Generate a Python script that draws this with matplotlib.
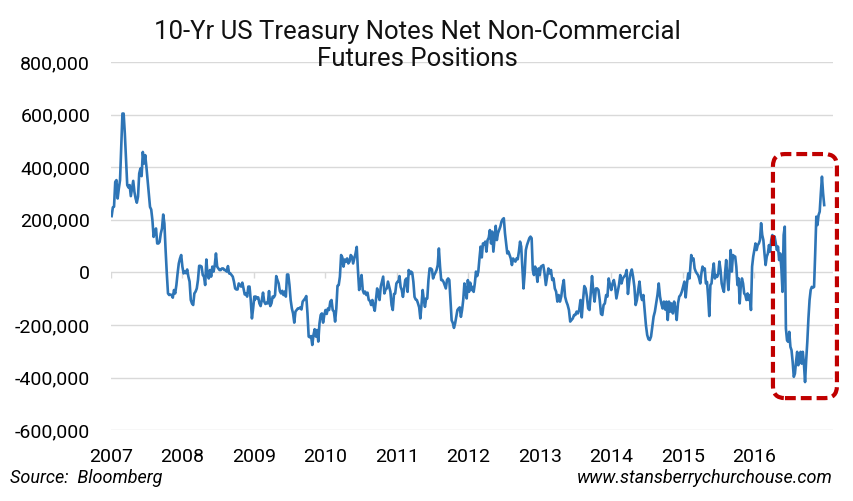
import numpy as np
import matplotlib
matplotlib.use("Agg")
import matplotlib.pyplot as plt
from matplotlib.patches import FancyBboxPatch
from matplotlib.transforms import IdentityTransform

# ---- data (thousands of contracts) ----
seg_a_span = (2007.009, 2009.005)
seg_a = [214, 247, 250, 344, 351, 281, 319, 351, 477, 604, 604, 528, 427, 332, 323, 332, 290, 319, 348, 306,
         281, 265, 288, 376, 395, 366, 458, 414, 446, 401, 351, 300, 249, 239, 199, 135, 154, 167, 110, 110,
         116, 148, 167, 220, 186, 85, -4, -80, -86, -84, -86, -96, -67, -80, -48, -4, 34, 53, 66, 22,
         -4, 3, -3, 11, -16, -35, -105, -118, -124, -80, -73, -61, -29, 25, 25, 22, -10, -16, -48, 49,
         -10, -23, 9, -16, 22, 3, 28, 72, 22, 15, 9, 9, 15, 15, 9, 9, 3, 24, -4, -4,
         -10, -16, -35, -61, -65, -65, -42, -48, -54, -39, -61, -84, -80, -92, -54, -54, -105, -175, -137, -92]

seg_b_span = (2009.009, 2011.009)
seg_b = [-105, -92, -99, -95, -118, -128, -105, -77, -111, -120, -115, -118, -71, -128, -118, -92, -95, -86, -14, -29,
         -42, -71, -80, -70, -86, -73, -92, -8, -8, -48, -105, -137, -156, -191, -149, -143, -137, -137, -133, -141,
         -111, -105, -99, -90, -156, -244, -247, -242, -276, -238, -216, -244, -219, -263, -194, -162, -156, -191, -162, -143,
         -158, -137, -143, -111, -105, -143, -149, -187, -137, -51, -48, -16, 66, 57, 22, 49, 41, 53, 34, 41,
         66, 60, 34, 53, 72, 97, 9, -67, -42, -10, -67, -80, -73, -86, -77, -105, -108, -124, -105, -128,
         -146, -105, -61, -86, -105, -54, -35, -16, -80, -65, -61, -35, -54, -73, -124, -143, -82, -80, -42, -35]

seg_c_span = (2011.019, 2013.014)
seg_c = [-36, -14, -55, -67, -93, -61, -29, -23, -74, 9, -6, 3, -1, -36, -93, -103, -105, -118, -133, -175,
         -124, -67, -105, -131, -99, -99, -29, 15, 15, 11, -23, -10, -1, 9, 28, 91, 22, -29, -29, -36,
         -48, -61, -29, -23, -29, -105, -182, -192, -211, -194, -169, -143, -137, -133, -169, -143, -105, -42, -74, -99,
         -29, -74, -39, -67, -55, -74, -42, 3, -14, 3, 53, 98, 57, 110, 107, 117, 79, 123, 132, 161,
         110, 155, 79, 130, 177, 123, 149, 161, 174, 193, 202, 206, 149, 110, 72, 79, 66, 53, 28, 53,
         47, 41, 53, 50, 79, 117, 98, 22, -61, -4, 85, 104, 117, 130, 136, 130, 9, -10, 22, 3,
         -36, 15, -10, 22]

seg_d_span = (2013.047, 2015.093)
seg_d = [28, -4, -48, -16, 15, -4, 9, -29, -23, -61, -73, -111, -86, -111, -92, -54, -29, -92, -111, -124,
         -143, -187, -181, -175, -162, -162, -149, -156, -143, -105, -171, -105, -52, -61, -92, -137, -143, -80, -14, -73,
         -111, -61, -61, -67, -105, -158, -162, -124, -118, -86, -92, -23, -48, -67, -42, -29, -54, -99, -73, -48,
         -10, -42, -23, -16, -10, 9, -82, -35, -4, 11, -16, -54, -124, -105, -67, -35, -86, -105, -86, -143,
         -200, -238, -254, -257, -244, -206, -168, -149, -118, -86, -42, -92, -118, -137, -111, -141, -111, -181, -111, -149,
         -118, -156, -111, -137, -181, -118, -92, -86, -73, -54, -35, -95, -42, -4, -23]

seg_e_span = (2015.117, 2016.977)
seg_e = [66, 47, 53, 15, 3, -4, -10, -23, -42, -4, 22, 9, 15, -42, -36, -93, -166, -48, -42, 3,
         34, -23, -10, -17, -4, 41, 9, -42, -61, -74, -4, 47, -17, -67, 9, 85, 3, 66, 62, 60,
         22, -48, -23, -118, -48, -23, -42, -80, -86, -105, -80, -105, -86, -143, 22, 60, 85, 110, 85, 104,
         110, 123, 187, 142, 123, 72, 28, 60, 72, 104, 79, 123, 142, 117, 136, 110, 85, 98, 47, 72,
         15, -74, 142, 174, -213, -258, -264, -226, -283, -296, -340, -397, -385, -340, -302, -353, -326, -302, -347, -302,
         -347, -417, -334, -264, -175, -105, -67, -55, -58, -55, 72, 212, 180, 218, 231, 301, 364, 301, 256]

segments = [(seg_a_span, seg_a), (seg_b_span, seg_b), (seg_c_span, seg_c),
            (seg_d_span, seg_d), (seg_e_span, seg_e)]

years = [2007, 2008, 2009, 2010, 2011, 2012, 2013, 2014, 2015, 2016]
year_labels = [str(y) for y in years]
yticks = [-600000, -400000, -200000, 0, 200000, 400000, 600000, 800000]

# highlight box (data coordinates)
box_x = (2016.26, 2017.155)
box_y = (450000, -478000)

title = "10-Yr US Treasury Notes Net Non-Commercial\nFutures Positions"
source = "Source:  Bloomberg"
website = "www.stansberrychurchouse.com"

# ---- build series ----
xs, ys = [], []
for (s, e), vals in segments:
    xs.append(np.linspace(s, e, len(vals)))
    ys.append(np.array(vals, dtype=float) * 1000)
x = np.concatenate(xs)
y = np.concatenate(ys)

plt.rcParams['font.family'] = ['Roboto', 'DejaVu Sans']

fig = plt.figure(figsize=(8.54, 5.01), dpi=100)
ax = fig.add_axes([111 / 854, 1 - 430.2 / 501, (833 - 111) / 854, (430.2 - 62) / 501])

ax.set_xlim(2007.0, 2017.1)
ax.set_ylim(-600000, 800000)

for t in yticks:
    ax.axhline(t, color='#d9d9d9', lw=1.0, zorder=1)
ax.vlines(years, -22000, 0, color='#d9d9d9', lw=1.0, zorder=1)

ax.plot(x, y, color='#2E75B6', lw=1.9, zorder=3, solid_joinstyle='round')

for sp in ax.spines.values():
    sp.set_visible(False)
ax.set_yticks(yticks)
ax.set_yticklabels([f"{v:,.0f}" for v in yticks])
ax.set_xticks(years)
ax.set_xticklabels(year_labels)
ax.tick_params(axis='both', length=0, labelsize=14, colors='#000000')
ax.tick_params(axis='y', pad=15)
ax.tick_params(axis='x', pad=13)

fig.text(0.489, 0.909, title, ha='center', va='center', fontsize=18.5, color='#111111',
         linespacing=1.2)
fig.text(10 / 854, 1 - 478 / 501, source, ha='left', va='center', fontsize=13,
         style='italic', color='#000000')
fig.text(833 / 854, 1 - 478 / 501, website, ha='right', va='center', fontsize=13,
         style='italic', color='#000000')

# highlight box in pixel space so the rounded corners stay circular
fig.canvas.draw()
(x0, y0), (x1, y1) = ax.transData.transform([(box_x[0], box_y[1]), (box_x[1], box_y[0])])
box = FancyBboxPatch((x0, y0), x1 - x0, y1 - y0,
                     boxstyle="round,pad=0,rounding_size=12",
                     transform=IdentityTransform(), fill=False,
                     edgecolor='#C00000', lw=3.0, linestyle=(0, (2.6, 1.2)),
                     zorder=10, clip_on=False)
fig.add_artist(box)

fig.savefig("out.png", dpi=100)
